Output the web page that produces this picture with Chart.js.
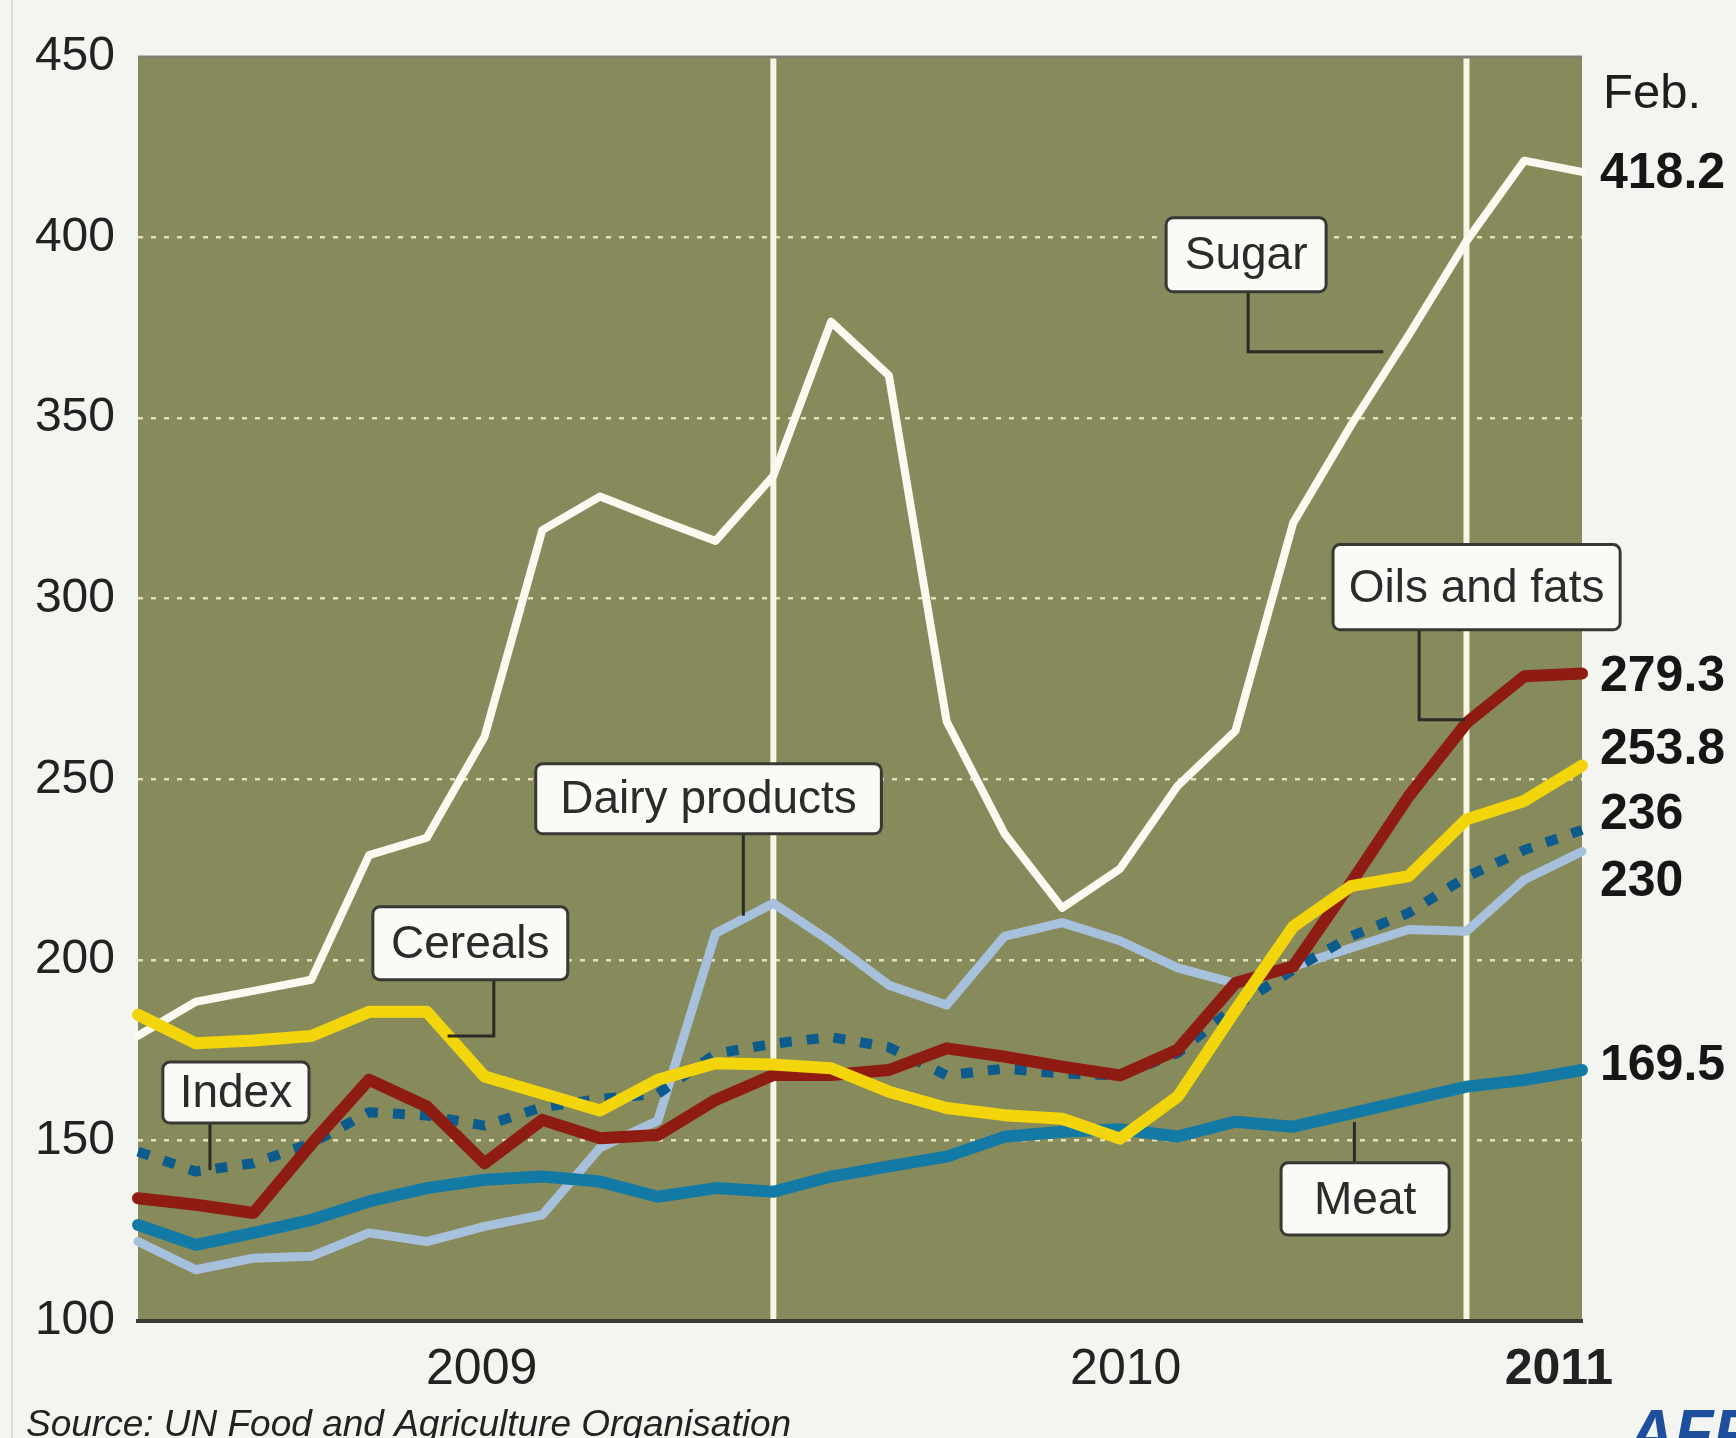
<!DOCTYPE html>
<html>
<head>
<meta charset="utf-8">
<script src="https://cdn.jsdelivr.net/npm/chart.js@4.4.1/dist/chart.umd.min.js"></script>
<style>
html,body{margin:0;padding:0;background:#f4f4f1;}
canvas{display:block;}
</style>
</head>
<body>
<canvas id="c" width="1736" height="1438"></canvas>
<script>
// ---------------- DATA ----------------
const months = ['Jan 2009','Feb 2009','Mar 2009','Apr 2009','May 2009','Jun 2009','Jul 2009','Aug 2009','Sep 2009','Oct 2009','Nov 2009','Dec 2009',
                'Jan 2010','Feb 2010','Mar 2010','Apr 2010','May 2010','Jun 2010','Jul 2010','Aug 2010','Sep 2010','Oct 2010','Nov 2010','Dec 2010',
                'Jan 2011','Feb 2011'];
const sugar   = [179, 188.4, 191.4, 194.5, 229, 233.8, 261.8, 319, 328.3, 322, 316, 334, 376.7, 361.8, 266, 235, 214.4, 225.2, 248.2, 263.4, 321, 348, 373, 399, 421.3, 418.2];
const oils    = [134, 132.2, 129.9, 149, 166.8, 159.4, 143.7, 155.7, 150.6, 151.5, 161.2, 168.1, 168.1, 169.5, 175.5, 173.2, 170.4, 168, 175.1, 193.6, 198.2, 221.3, 245.3, 265.6, 278.5, 279.3];
const cereals = [184.8, 176.9, 177.7, 178.9, 185.6, 185.6, 167.7, 163, 158.3, 166.8, 171.4, 171, 170, 163.5, 159, 157, 156, 150.5, 162.1, 186.1, 209.2, 220.4, 223.2, 238.9, 244, 253.8];
const foodIndex = [146.9, 141.4, 143.7, 149.2, 157.8, 156.9, 154.1, 159.2, 161.5, 162.9, 174, 176.8, 178.6, 175.8, 168, 169.9, 168.5, 168, 174.2, 187.1, 197.3, 206.5, 213, 223, 230.4, 236];
const meat    = [126.6, 121.1, 124.4, 128, 133.1, 136.8, 139.1, 140, 138.6, 134.4, 136.8, 135.8, 140, 142.8, 145.5, 151, 152.4, 153.1, 151.1, 155.2, 153.8, 157.5, 161.2, 164.9, 166.7, 169.5];
const dairy   = [122, 114.2, 117.4, 117.9, 124.4, 122, 126.2, 129.4, 148, 155.5, 207.4, 215.7, 205, 193, 187.5, 206.5, 210.3, 205.3, 197.8, 193.5, 198.2, 203.3, 208.4, 207.9, 222.2, 230];

const seriesNames = ['Cereals', 'Oils and fats', 'Index', 'Meat', 'Dairy products', 'Sugar'];
const yTicks = [100, 150, 200, 250, 300, 350, 400, 450];
const yearLabels = ['2009', '2010', '2011'];
const yearTickAt = [5.95, 17.1, 24.6];      // month index where each year label sits
const yearDividers = [11, 23];              // month index of the white vertical rules
const endHeader = 'Feb.';
const sourceText = 'Source: UN Food and Agriculture Organisation';
const creditText = 'AFP';

// ---------------- STYLE / LAYOUT ----------------
const FONT = '"Liberation Sans", Arial, Helvetica, sans-serif';
const seriesValues = [cereals, oils, foodIndex, meat, dairy, sugar];
const seriesStyle = [
  {color:'#f3d50b', width:12},
  {color:'#8e1c12', width:12},
  {color:'#0c5b8c', width:10, dash:[12,15]},
  {color:'#137aa6', width:12},
  {color:'#a7c1dd', width:9},
  {color:'#fbfaf0', width:8}
];
const endOffsets = [-17, 2, -17, -6, 29, 0];
const callouts = [
  {name:'Sugar',          box:[17.80, 405.5, 20.57, 385.0], path:[[19.22,385.0],[19.22,368.4],[21.56,368.4]]},
  {name:'Oils and fats',  box:[20.69, 315.0, 25.66, 291.4], path:[[22.18,291.4],[22.18,266.5],[22.98,266.5]]},
  {name:'Dairy products', box:[6.886, 254.3, 12.87, 234.9], path:[[10.48,234.9],[10.48,212.2]]},
  {name:'Cereals',        box:[4.066, 214.7, 7.44, 194.5],  path:[[6.16,194.5],[6.16,178.9],[5.36,178.9]]},
  {name:'Index',          box:[0.43, 171.7, 2.96, 154.8],   path:[[1.246,154.8],[1.246,141.8]]},
  {name:'Meat',           box:[19.79, 143.8, 22.70, 123.8], path:[[21.06,143.8],[21.06,155.1]]}
];

const datasets = seriesNames.map((name, k) => ({
  label: name,
  data: seriesValues[k].map((v, i) => ({x: i, y: v})),
  borderColor: seriesStyle[k].color,
  backgroundColor: seriesStyle[k].color,
  borderWidth: seriesStyle[k].width,
  borderDash: seriesStyle[k].dash || [],
  borderCapStyle: seriesStyle[k].dash ? 'butt' : 'round',
  borderJoinStyle: 'round',
  pointRadius: 0,
  pointHoverRadius: 0,
  tension: 0,
  fill: false,
  clip: false
}));

const deco = {
  id: 'deco',
  beforeDraw(chart) {
    const {ctx, chartArea: a} = chart;
    ctx.save();
    ctx.fillStyle = '#f4f4f1';
    ctx.fillRect(0, 0, chart.width, chart.height);
    ctx.strokeStyle = '#dddbd2';
    ctx.lineWidth = 2;
    ctx.beginPath(); ctx.moveTo(12, 0); ctx.lineTo(12, chart.height); ctx.stroke();
    ctx.fillStyle = '#878a5a';
    ctx.fillRect(a.left, a.top, a.right - a.left, a.bottom - a.top);
    ctx.restore();
  },
  beforeDatasetsDraw(chart) {
    const {ctx, chartArea: a, scales: {x}} = chart;
    ctx.save();
    ctx.strokeStyle = '#f7f5e6';
    ctx.lineWidth = 6;
    yearDividers.forEach(m => {
      const px = x.getPixelForValue(m);
      ctx.beginPath(); ctx.moveTo(px, a.top); ctx.lineTo(px, a.bottom - 2); ctx.stroke();
    });
    ctx.strokeStyle = '#7e8070';
    ctx.lineWidth = 3;
    ctx.beginPath(); ctx.moveTo(a.left, a.top); ctx.lineTo(a.right, a.top); ctx.stroke();
    ctx.restore();
  },
  afterDatasetsDraw(chart) {
    const {ctx, chartArea: a, scales: {x, y}} = chart;
    ctx.save();
    ctx.strokeStyle = '#2a2a26';
    ctx.lineWidth = 3;
    ctx.lineJoin = 'miter';
    callouts.forEach(c => {
      ctx.beginPath();
      c.path.forEach((p, i) => {
        const px = x.getPixelForValue(p[0]), py = y.getPixelForValue(p[1]);
        if (i === 0) ctx.moveTo(px, py); else ctx.lineTo(px, py);
      });
      ctx.stroke();
    });
    ctx.font = '46px ' + FONT;
    ctx.textAlign = 'center';
    ctx.textBaseline = 'middle';
    callouts.forEach(c => {
      const x0 = x.getPixelForValue(c.box[0]), x1 = x.getPixelForValue(c.box[2]);
      const y0 = y.getPixelForValue(c.box[1]), y1 = y.getPixelForValue(c.box[3]);
      ctx.beginPath();
      ctx.roundRect(x0, y0, x1 - x0, y1 - y0, 7);
      ctx.fillStyle = '#fafaf7';
      ctx.fill();
      ctx.strokeStyle = '#383834';
      ctx.lineWidth = 3;
      ctx.stroke();
      ctx.fillStyle = '#2b2b2b';
      ctx.fillText(c.name, (x0 + x1) / 2, (y0 + y1) / 2 + 2);
    });
    ctx.textAlign = 'left';
    ctx.fillStyle = '#161616';
    ctx.font = 'bold 50px ' + FONT;
    seriesValues.forEach((arr, k) => {
      const v = arr[arr.length - 1];
      ctx.fillText(String(v), a.right + 18, y.getPixelForValue(v) + endOffsets[k] + 2);
    });
    ctx.font = '49px ' + FONT;
    ctx.fillStyle = '#1e1e1e';
    ctx.fillText(endHeader, a.right + 21, a.top + 37);
    ctx.font = 'italic 37px ' + FONT;
    ctx.textBaseline = 'alphabetic';
    ctx.fillStyle = '#222';
    ctx.fillText(sourceText, 26, 1436);
    ctx.font = 'italic bold 64px ' + FONT;
    ctx.fillStyle = '#1d4f9e';
    ctx.fillText(creditText, 1628, 1455);
    ctx.restore();
  }
};

new Chart(document.getElementById('c'), {
  type: 'line',
  data: { datasets },
  plugins: [deco],
  options: {
    responsive: false,
    animation: false,
    devicePixelRatio: 1,
    layout: { padding: { top: 57, right: 154, left: 0, bottom: 0 } },
    plugins: { legend: { display: false }, tooltip: { enabled: false } },
    scales: {
      x: {
        type: 'linear',
        min: 0,
        max: months.length - 1,
        afterBuildTicks: s => { s.ticks = yearTickAt.map(v => ({ value: v })); },
        afterFit: s => { s.height = 117; },
        grid: { display: false, drawTicks: false },
        border: { display: true, color: '#3a3a33', width: 4 },
        ticks: {
          autoSkip: false, maxRotation: 0, minRotation: 0, padding: 19, color: '#222',
          font: ctx => ({ family: FONT, size: 50, weight: ctx.index === 2 ? 'bold' : 'normal' }),
          callback: (v, i) => yearLabels[i]
        }
      },
      y: {
        min: 100,
        max: 450,
        afterBuildTicks: s => { s.ticks = yTicks.map(v => ({ value: v })); },
        afterFit: s => { s.width = 138; },
        grid: {
          drawTicks: false,
          lineWidth: 2.5,
          color: ctx => (ctx.tick && (ctx.tick.value === 100 || ctx.tick.value === 450)) ? 'rgba(0,0,0,0)' : 'rgba(238,234,196,0.9)'
        },
        border: { display: false, dash: [5, 8] },
        ticks: { padding: 23, color: '#222', font: { family: FONT, size: 48 }, callback: v => String(v) }
      }
    }
  }
});
</script>
</body>
</html>
